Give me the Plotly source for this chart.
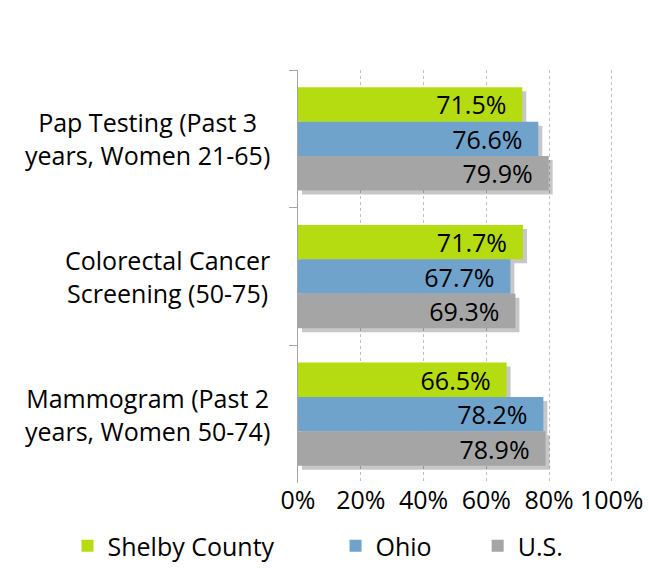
import plotly.graph_objects as go

categories = ["Pap Testing (Past 3<br>years, Women 21-65)",
              "Colorectal Cancer<br>Screening (50-75)",
              "Mammogram (Past 2<br>years, Women 50-74)"]
series_names = ["Shelby County", "Ohio", "U.S."]
shelby = [71.5, 71.7, 66.5]
ohio = [76.6, 67.7, 78.2]
us = [79.9, 69.3, 78.9]
x_ticks = [0, 20, 40, 60, 80, 100]

colors = ["#B5DC10", "#6FA3CB", "#A5A5A5"]
FONT = "Open Sans"
FS = 25
W, H = 649, 569
L, R, T, B = 298, 36, 70, 86
XMAX = 100.4
SHADOW_PX = 4
dx = SHADOW_PX * XMAX / (W - L - R)
dy = SHADOW_PX * 3 / (H - T - B)

fig = go.Figure()
# drop shadows on the base axes (drawn underneath), real bars on the overlay axes
for vals in [shelby, ohio, us]:
    fig.add_trace(go.Bar(y=categories, x=vals, orientation="h",
                         marker=dict(color="rgba(0,0,0,0.22)", line=dict(width=0)),
                         hoverinfo="skip", showlegend=False, xaxis="x", yaxis="y"))

legends = ["legend", "legend2", "legend3"]
for name, vals, col, lg in zip(series_names, [shelby, ohio, us], colors, legends):
    fig.add_trace(go.Bar(
        y=categories, x=vals, name=name, orientation="h",
        marker=dict(color=col, line=dict(width=0)),
        texttemplate="%{x:.1f}%\u00a0\u00a0", textposition="inside",
        insidetextanchor="end", textangle=0,
        textfont=dict(color="black", size=FS, family=FONT),
        legend=lg, showlegend=True, xaxis="x2", yaxis="y2",
    ))

# category labels, centred like the original
for c in categories:
    fig.add_annotation(text=c, x=-0.083, xref="paper", y=c, yref="y2",
                       xanchor="right", yanchor="middle", align="center",
                       showarrow=False, font=dict(size=FS, family=FONT, color="black"))

leg_common = dict(orientation="h", yanchor="bottom", xanchor="left",
                  xref="container", yref="container", y=0.0,
                  font=dict(size=FS, family=FONT, color="black"),
                  bgcolor="rgba(0,0,0,0)", visible=True)
fig.update_layout(
    width=W, height=H,
    margin=dict(l=L, r=R, t=T, b=B, autoexpand=False),
    paper_bgcolor="white", plot_bgcolor="white",
    barmode="group", bargap=0.25, bargroupgap=0,
    uniformtext=dict(mode="show", minsize=FS),
    showlegend=True,
    legend=dict(x=0.104, **leg_common),
    legend2=dict(x=0.517, **leg_common),
    legend3=dict(x=0.736, **leg_common),
    font=dict(family=FONT, size=FS, color="black"),
    xaxis=dict(range=[-dx, XMAX - dx], visible=False),
    yaxis=dict(range=[2.5 - dy, -0.5 - dy], visible=False),
    xaxis2=dict(overlaying="x", range=[0, XMAX], tickvals=x_ticks,
                ticktext=[f"{v}%" for v in x_ticks],
                showgrid=True, gridcolor="#BFBFBF", griddash="dot", gridwidth=1,
                zeroline=False, showline=False, ticks="",
                tickfont=dict(size=FS, family=FONT, color="black")),
    yaxis2=dict(overlaying="y", range=[2.5, -0.5], showticklabels=False,
                showline=True, linecolor="#A6A6A6", linewidth=1,
                ticks="outside", ticklen=8, tickcolor="#A6A6A6",
                tickson="boundaries", showgrid=False),
)

# page has a default body margin; drop it so the figure fills the window
fig.write_html("out.html", config={"displayModeBar": False},
               post_script="document.body.style.margin='0';")
